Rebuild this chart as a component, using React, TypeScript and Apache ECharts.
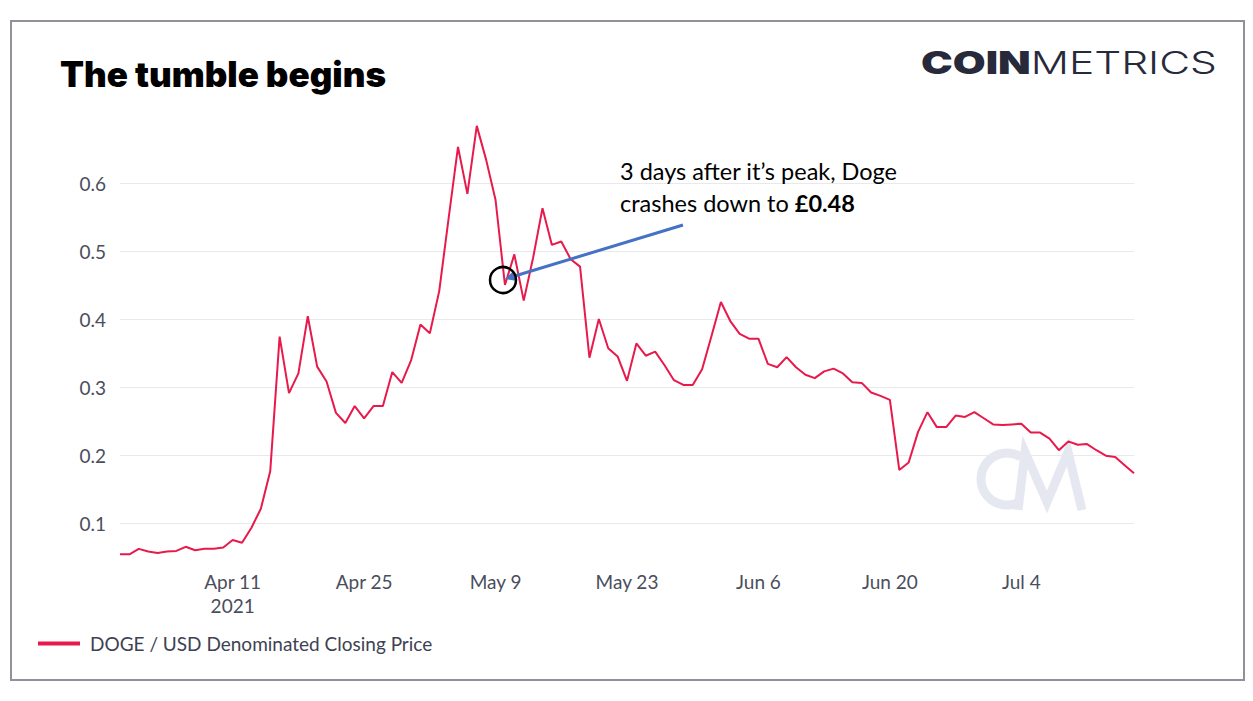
import React, { useEffect, useRef } from "react";
import * as echarts from "echarts";

const START_DATE = Date.UTC(2021, 2, 30);
const MONTHS = ["Jan", "Feb", "Mar", "Apr", "May", "Jun", "Jul", "Aug", "Sep", "Oct", "Nov", "Dec"];

const dogeClose = [
  0.054, 0.054, 0.062, 0.058, 0.056, 0.058, 0.059, 0.065, 0.060, 0.062,
  0.062, 0.064, 0.075, 0.071, 0.093, 0.121, 0.176, 0.374, 0.291, 0.320,
  0.404, 0.330, 0.308, 0.262, 0.247, 0.272, 0.254, 0.272, 0.272, 0.322,
  0.306, 0.339, 0.392, 0.379, 0.441, 0.548, 0.653, 0.584, 0.684, 0.634,
  0.575, 0.450, 0.495, 0.427, 0.490, 0.563, 0.509, 0.514, 0.488, 0.477,
  0.343, 0.400, 0.357, 0.345, 0.309, 0.364, 0.346, 0.352, 0.332, 0.310,
  0.303, 0.303, 0.326, 0.375, 0.425, 0.397, 0.378, 0.371, 0.371, 0.334,
  0.329, 0.344, 0.329, 0.318, 0.313, 0.323, 0.327, 0.320, 0.307, 0.306,
  0.292, 0.287, 0.281, 0.178, 0.189, 0.234, 0.263, 0.241, 0.241, 0.258,
  0.256, 0.263, 0.254, 0.245, 0.244, 0.245, 0.246, 0.233, 0.233, 0.224,
  0.207, 0.220, 0.215, 0.216, 0.207, 0.199, 0.197, 0.185, 0.173,
];

const dates = dogeClose.map((_, i) => {
  const d = new Date(START_DATE + i * 86400000);
  return `${d.getUTCFullYear()}-${String(d.getUTCMonth() + 1).padStart(2, "0")}-${String(d.getUTCDate()).padStart(2, "0")}`;
});

const xTickLabels = ["Apr 11", "Apr 25", "May 9", "May 23", "Jun 6", "Jun 20", "Jul 4"];
const yTickValues = [0.1, 0.2, 0.3, 0.4, 0.5, 0.6];

const SERIES_NAME = "DOGE / USD Denominated Closing Price";

function shortLabel(dateStr: string): string {
  const [, m, d] = dateStr.split("-");
  return `${MONTHS[parseInt(m, 10) - 1]} ${parseInt(d, 10)}`;
}

export default function App() {
  const ref = useRef<HTMLDivElement>(null);

  useEffect(() => {
    if (!ref.current) return;
    const chart = echarts.init(ref.current, undefined, { renderer: "svg" });

    // arrow geometry (annotation)
    const tail = [683, 225];
    const tip = [505, 279];
    const dx = tip[0] - tail[0];
    const dy = tip[1] - tail[1];
    const len = Math.sqrt(dx * dx + dy * dy);
    const ux = dx / len;
    const uy = dy / len;
    const headLen = 11;
    const headHalf = 5.5;
    const base = [tip[0] - ux * headLen, tip[1] - uy * headLen];
    const nx = -uy;
    const ny = ux;

    chart.setOption({
      animation: false,
      backgroundColor: "#ffffff",
      title: {
        text: "The tumble begins",
        left: 55,
        top: 51,
        textStyle: {
          fontFamily: "Inter",
          fontWeight: 900,
          fontSize: 35,
          color: "#000000",
        },
      },
      legend: {
        left: 38,
        top: 634,
        padding: 0,
        icon: "rect",
        itemWidth: 42,
        itemHeight: 4,
        data: [SERIES_NAME],
        textStyle: {
          fontFamily: "Lato",
          fontSize: 19,
          color: "#3d4252",
          padding: [0, 0, 0, 5],
        },
      },
      grid: {
        left: 120,
        right: 119,
        top: 115,
        bottom: 140.6,
        containLabel: false,
      },
      xAxis: {
        type: "category",
        data: dates,
        boundaryGap: false,
        axisLine: { show: false },
        axisTick: { show: false },
        splitLine: { show: false },
        axisLabel: {
          interval: (_idx: number, value: string) => xTickLabels.includes(shortLabel(value)),
          formatter: (value: string) => {
            const lbl = shortLabel(value);
            return lbl === xTickLabels[0] ? `${lbl}\n${value.slice(0, 4)}` : lbl;
          },
          fontFamily: "Lato",
          fontSize: 19,
          lineHeight: 24,
          color: "#4a4e5c",
          margin: 9,
        },
      },
      yAxis: {
        type: "value",
        min: 0.045,
        max: 0.7,
        axisLine: { show: false },
        axisTick: { show: false, customValues: yTickValues },
        axisLabel: {
          customValues: yTickValues,
          fontFamily: "Lato",
          fontSize: 19,
          color: "#4a4e5c",
          margin: 14,
        },
        splitLine: { show: true, lineStyle: { color: "#e9e9ec", width: 1 } },
      },
      series: [
        {
          name: SERIES_NAME,
          type: "line",
          data: dogeClose,
          symbol: "none",
          showSymbol: false,
          lineStyle: { color: "#e8194b", width: 2 },
          itemStyle: { color: "#e8194b" },
          z: 3,
        },
      ],
      graphic: [
        {
          type: "rect",
          shape: { x: 11, y: 21, width: 1233, height: 659 },
          style: { fill: "none", stroke: "#8f929b", lineWidth: 2 },
          z: 0,
          silent: true,
        },
        {
          type: "arc",
          shape: { cx: 1007, cy: 479, r: 26, startAngle: Math.PI * 0.32, endAngle: Math.PI * 1.68, clockwise: true },
          style: { stroke: "#e6e8f1", lineWidth: 9, fill: "none" },
          z: 0,
          silent: true,
        },
        {
          type: "polyline",
          shape: { points: [[1018, 510], [1025, 452], [1047, 502], [1068, 452], [1082, 510]] },
          style: { stroke: "#e6e8f1", lineWidth: 9, fill: "none", lineJoin: "miter" },
          z: 0,
          silent: true,
        },
        {
          type: "text",
          x: 921,
          y: 63,
          scaleX: 1.37,
          style: {
            text: "{b|COIN}{l|METRICS}",
            verticalAlign: "middle",
            rich: {
              b: { fontFamily: "Inter", fontWeight: 900, fontSize: 31, fill: "#272a3a" },
              l: { fontFamily: "Inter", fontWeight: 300, fontSize: 31, fill: "#272a3a" },
            },
          },
          z: 5,
        },
        {
          type: "text",
          x: 620,
          y: 155,
          style: {
            text: "3 days after it\u2019s peak, Doge\ncrashes down to {b|\u00a30.48}",
            fontFamily: "Lato",
            fontSize: 23.5,
            lineHeight: 32,
            fill: "#000000",
            rich: {
              b: { fontFamily: "Lato", fontWeight: 700, fontSize: 23.5, lineHeight: 32, fill: "#000000" },
            },
          },
          z: 5,
        },
        {
          type: "line",
          shape: { x1: tail[0], y1: tail[1], x2: base[0], y2: base[1] },
          style: { stroke: "#4472c4", lineWidth: 3 },
          z: 6,
        },
        {
          type: "polygon",
          shape: {
            points: [
              [tip[0], tip[1]],
              [base[0] + nx * headHalf, base[1] + ny * headHalf],
              [base[0] - nx * headHalf, base[1] - ny * headHalf],
            ],
          },
          style: { fill: "#4472c4" },
          z: 6,
        },
        {
          type: "circle",
          shape: { cx: 503, cy: 280, r: 13 },
          style: { fill: "none", stroke: "#000000", lineWidth: 2.5 },
          z: 6,
        },
      ],
    });

    return () => {
      chart.dispose();
    };
  }, []);

  return (
    <div
      ref={ref}
      style={{ position: "fixed", left: 0, top: 0, width: 1253, height: 701, background: "#ffffff" }}
    />
  );
}
